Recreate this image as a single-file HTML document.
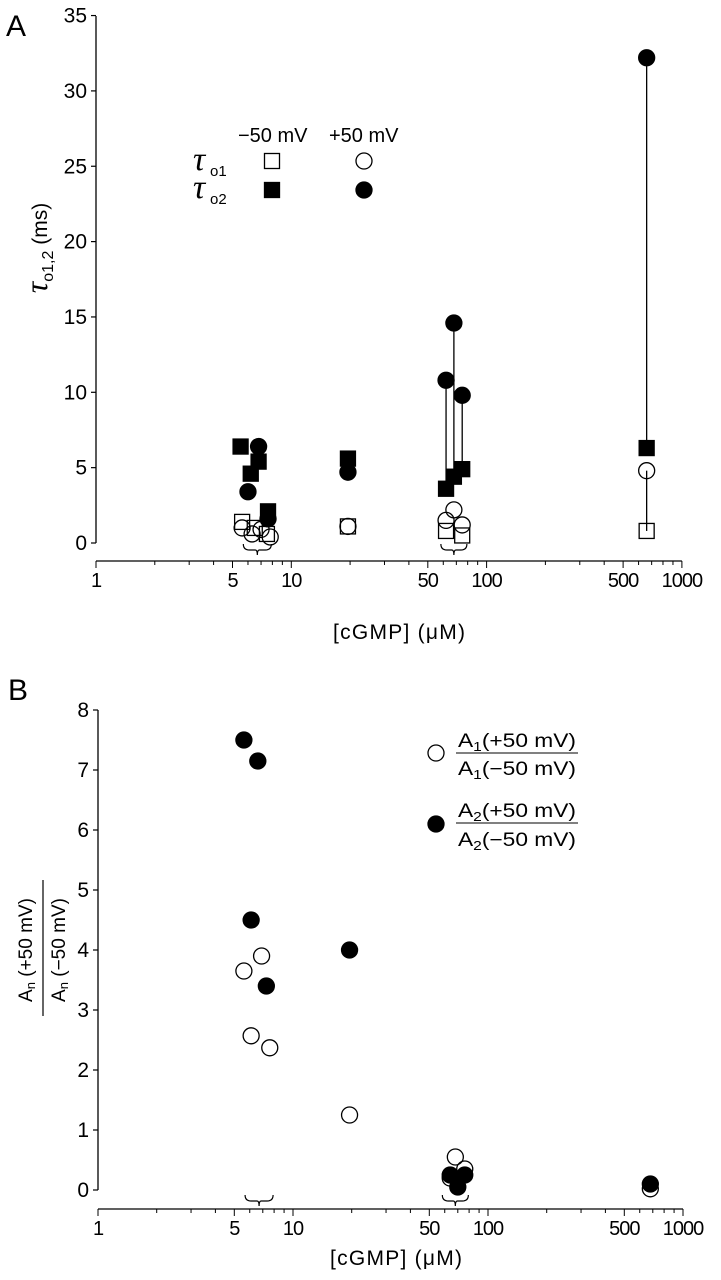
<!DOCTYPE html>
<html><head><meta charset="utf-8"><style>
body{margin:0;background:#fff;}
svg{display:block;font-family:"Liberation Sans",sans-serif;}
</style></head><body>
<svg id="fig" width="721" height="1280" viewBox="0 0 721 1280">
<g id="A"></g>
<g id="B"></g>
</svg>
<script>
// Panel A data
const aTicksY = [0,5,10,15,20,25,30,35];
const xTickLabels = [1,5,10,50,100,500,1000];
const aOpenSqX = [5.6,6.5,7.5,19.5,62,75,660];
const aOpenSqY = [1.4,1.0,0.6,1.1,0.8,0.5,0.8];
const aFillSqX = [5.5,6.2,6.8,7.6,19.5,62,68,75,660];
const aFillSqY = [6.4,4.6,5.4,2.1,5.6,3.6,4.4,4.9,6.3];
const aOpenCiX = [5.6,6.3,7.0,7.8,19.5,62,68,75,660];
const aOpenCiY = [1.0,0.6,0.9,0.4,1.1,1.5,2.2,1.2,4.8];
const aFillCiX = [6.8,6.0,7.6,19.5,62,68,75,660];
const aFillCiY = [6.4,3.4,1.6,4.7,10.8,14.6,9.8,32.2];
const aLinkX = [62,68,75,660,660];
const aLinkY1 = [3.6,4.4,4.9,6.3,0.8];
const aLinkY2 = [10.8,14.6,9.8,32.2,4.8];
// Panel B data
const bTicksY = [0,1,2,3,4,5,6,7,8];
const bOpenX = [5.6,6.9,6.1,7.6,19.5,68,64,76,680];
const bOpenY = [3.65,3.9,2.57,2.37,1.25,0.55,0.2,0.35,0.02];
const bFillX = [5.6,6.6,6.1,7.3,19.5,64,70,76,680];
const bFillY = [7.5,7.15,4.5,3.4,4.0,0.25,0.05,0.25,0.1];

const NS="http://www.w3.org/2000/svg";
function mk(parent,tag,attrs,text){const e=document.createElementNS(NS,tag);for(const k in attrs)e.setAttribute(k,attrs[k]);if(text!==undefined)e.textContent=text;parent.appendChild(e);return e;}

function axes(g,x0,dec,y0,unit,yAxisTop,xAxisY,ticksY){
  const X=v=>x0+Math.log10(v)*dec;
  const Y=v=>y0-v*unit;
  let e=mk(g,'line',{x1:x0,y1:yAxisTop,x2:x0,y2:Y(0),stroke:'#000','stroke-width':1.3});
  
  
  ticksY.forEach(t=>{
    let l=mk(g,'line',{x1:x0-5,y1:Y(t),x2:x0,y2:Y(t),stroke:'#000','stroke-width':1.2});
    
    
    let tx=mk(g,'text',{x:x0-9,y:Y(t)+7,'font-size':21,'text-anchor':'end'},String(t));
    
    
  });
  e=mk(g,'line',{x1:x0,y1:xAxisY,x2:X(1000),y2:xAxisY,stroke:'#000','stroke-width':1.3});
  
  
  for(let d=1;d<1000;d*=10)for(let m=1;m<=10;m++){
    const v=d*m; if(m==10&&v!=1000)continue;
    const big=(m==1||m==5||m==10);
    let l=mk(g,'line',{x1:X(v),y1:xAxisY,x2:X(v),y2:xAxisY+(big?7:4),stroke:'#000','stroke-width':1});
    
    
  }
  xTickLabels.forEach(v=>{
    let tx=mk(g,'text',{x:X(v),y:xAxisY+26,'font-size':20,'text-anchor':'middle','letter-spacing':-1},String(v));
    
    
  });
  return {X,Y};
}
function sq(g,x,y,fill){let e=mk(g,'rect',{x:x-7.5,y:y-7.5,width:15,height:15,fill:fill?'#000':'#fff',stroke:'#000','stroke-width':1.3,'fill-opacity':fill?1:0});
  
  }
function ci(g,x,y,fill){let e=mk(g,'circle',{cx:x,cy:y,r:8,fill:fill?'#000':'#fff',stroke:'#000','stroke-width':1.3,'fill-opacity':fill?1:0});
  
  }
function brace(g,cx,y,w){let e=mk(g,'path',{d:`M${cx-w/2},${y} q0,6 6,6 h${w/2-8} q2,0 2,5 q0,-5 2,-5 h${w/2-8} q6,0 6,-6`,fill:'none',stroke:'#000','stroke-width':1.2});
  
  }
function frac(g,x,yTop,yLine,yBot,n){
  const t1=mk(g,'text',{x:x,y:yTop,'font-size':19,textLength:118,lengthAdjust:'spacingAndGlyphs'});
  t1.innerHTML='A<tspan font-size="13" dy="4">'+n+'</tspan><tspan dy="-4">(+50 mV)</tspan>';
  mk(g,'line',{x1:x-2,y1:yLine,x2:x+120,y2:yLine,stroke:'#000','stroke-width':1.1});
  const t2=mk(g,'text',{x:x,y:yBot,'font-size':19,textLength:118,lengthAdjust:'spacingAndGlyphs'});
  t2.innerHTML='A<tspan font-size="13" dy="4">'+n+'</tspan><tspan dy="-4">(−50 mV)</tspan>';
}

// ---- Panel A
const gA=document.getElementById('A');
const a=axes(gA,96,195.3,543,15.07,16,561,aTicksY);
let t=mk(gA,'text',{x:6,y:36,'font-size':30},'A');


aLinkX.forEach((v,i)=>{let l=mk(gA,'line',{x1:a.X(v),y1:a.Y(aLinkY1[i]),x2:a.X(v),y2:a.Y(aLinkY2[i]),stroke:'#000','stroke-width':1.3});
  
  });
aOpenSqX.forEach((v,i)=>sq(gA,a.X(v),a.Y(aOpenSqY[i]),false));
aOpenCiX.forEach((v,i)=>ci(gA,a.X(v),a.Y(aOpenCiY[i]),false));
aFillSqX.forEach((v,i)=>sq(gA,a.X(v),a.Y(aFillSqY[i]),true));
aFillCiX.forEach((v,i)=>ci(gA,a.X(v),a.Y(aFillCiY[i]),true));
brace(gA,a.X(6.7),544,28); brace(gA,a.X(68),544,26);
t=mk(gA,'text',{x:333,y:639,'font-size':21,textLength:132,lengthAdjust:'spacing'},'[cGMP]   (μM)');


t=mk(gA,'text',{transform:'translate(47,248) rotate(-90)','font-size':21,'text-anchor':'middle'});
t.innerHTML='<tspan font-family="Liberation Serif" font-size="32" font-style="italic">τ</tspan><tspan font-size="16" dy="6">o1,2</tspan><tspan dy="-6"> (ms)</tspan>';


// legend A
const lgA=mk(gA,'g',{});


mk(lgA,'text',{x:238,y:142,'font-size':20},'−50 mV');
mk(lgA,'text',{x:329,y:142,'font-size':20},'+50 mV');
mk(lgA,'text',{x:193,y:170,'font-size':34,'font-family':'Liberation Serif','font-style':'italic'},'τ');
mk(lgA,'text',{x:210,y:176,'font-size':15},'o1');
mk(lgA,'text',{x:193,y:198,'font-size':34,'font-family':'Liberation Serif','font-style':'italic'},'τ');
mk(lgA,'text',{x:210,y:204,'font-size':15},'o2');
sq(lgA,272,161,false); ci(lgA,364,161,false);
sq(lgA,272,190,true); ci(lgA,364,190,true);

// ---- Panel B
const gB=document.getElementById('B');
const b=axes(gB,98,195,1190,60,710,1209,bTicksY);
t=mk(gB,'text',{x:8,y:700,'font-size':30},'B');


bOpenX.forEach((v,i)=>ci(gB,b.X(v),b.Y(bOpenY[i]),false));
bFillX.forEach((v,i)=>ci(gB,b.X(v),b.Y(bFillY[i]),true));
brace(gB,b.X(6.7),1195,28); brace(gB,b.X(68),1195,26);
t=mk(gB,'text',{x:330,y:1265,'font-size':21,textLength:132,lengthAdjust:'spacing'},'[cGMP]   (μM)');


const yt=mk(gB,'g',{});


const y1=mk(yt,'text',{transform:'translate(32,950) rotate(-90)','font-size':19,'text-anchor':'middle'});
y1.innerHTML='A<tspan font-size="13" dy="3">n</tspan><tspan dy="-3"> (+50 mV)</tspan>';
mk(yt,'line',{x1:43,y1:880,x2:43,y2:1016,stroke:'#000','stroke-width':1.2});
const y2=mk(yt,'text',{transform:'translate(65,950) rotate(-90)','font-size':19,'text-anchor':'middle'});
y2.innerHTML='A<tspan font-size="13" dy="3">n</tspan><tspan dy="-3"> (−50 mV)</tspan>';
// legend B
const lgB=mk(gB,'g',{});


ci(lgB,436,753,false);
frac(lgB,458,747,753,775,'1');
ci(lgB,436,824,true);
frac(lgB,458,817,823,846,'2');
</script>
</body></html>
